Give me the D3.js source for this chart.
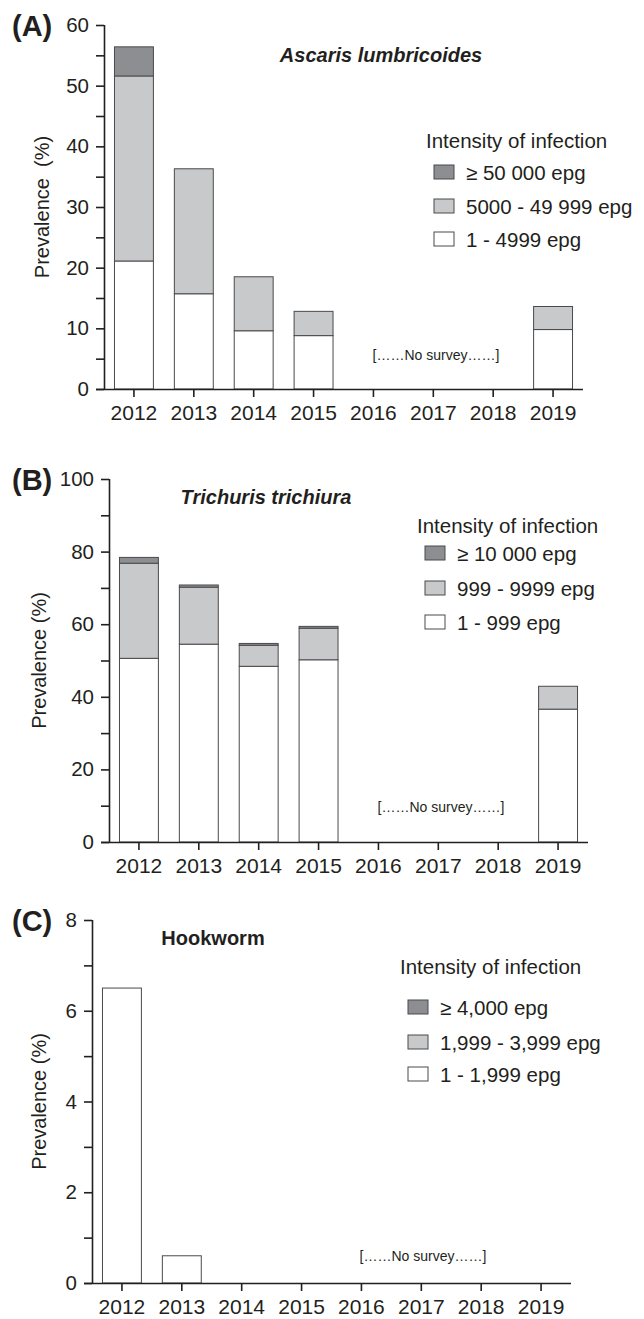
<!DOCTYPE html>
<html>
<head>
<meta charset="utf-8">
<script src="https://cdn.jsdelivr.net/npm/d3@7"></script>
<style>
  html, body { margin: 0; padding: 0; background: #fff; }
  svg text { font-family: "Liberation Sans", Arial, Helvetica, sans-serif; fill: #231f20; }
</style>
</head>
<body>
<svg id="chart" width="644" height="1319"></svg>
<script>
// ---- Data ----
const years = ["2012", "2013", "2014", "2015", "2016", "2017", "2018", "2019"];

// (A) Ascaris lumbricoides, prevalence (%) by intensity class
const ascarisLight    = [21.1, 15.7, 9.6, 8.8, null, null, null, 9.8];
const ascarisModerate = [30.5, 20.6, 8.9, 4.0, null, null, null, 3.8];
const ascarisHeavy    = [4.8, 0, 0, 0, null, null, null, 0];
const ascarisLegend   = ["\u2265 50 000 epg", "5000 - 49 999 epg", "1 - 4999 epg"];
const ascarisTicks    = [0, 10, 20, 30, 40, 50, 60];

// (B) Trichuris trichiura
const trichurisLight    = [50.6, 54.5, 48.4, 50.2, null, null, null, 36.6];
const trichurisModerate = [26.2, 15.7, 5.8, 8.7, null, null, null, 6.3];
const trichurisHeavy    = [1.6, 0.6, 0.5, 0.5, null, null, null, 0];
const trichurisLegend   = ["\u2265 10 000 epg", "999 - 9999 epg", "1 - 999 epg"];
const trichurisTicks    = [0, 20, 40, 60, 80, 100];

// (C) Hookworm
const hookLight    = [6.5, 0.6, 0, 0, null, null, null, null];
const hookModerate = [0, 0, 0, 0, null, null, null, null];
const hookHeavy    = [0, 0, 0, 0, null, null, null, null];
const hookLegend   = ["\u2265 4,000 epg", "1,999 - 3,999 epg", "1 - 1,999 epg"];
const hookTicks    = [0, 2, 4, 6, 8];

const fills = ["#ffffff", "#c8c9cb", "#8d8e92"]; // light, moderate, heavy
const legendFills = ["#8d8e92", "#c8c9cb", "#ffffff"];

const svg = d3.select("#chart");

function drawPanel(p) {
  const y = d3.scaleLinear().domain([0, p.ymax]).range([p.y0, p.y1]);
  const x = d3.scaleBand().domain(years).range([p.x0, p.x0 + 479]).paddingInner(0.35).paddingOuter(0.175);
  const g = svg.append("g");

  // stacked bars
  const series = [p.light, p.moderate, p.heavy];
  years.forEach((yr, i) => {
    if (p.light[i] === null) return;
    let base = 0;
    series.forEach((s, k) => {
      const v = s[i];
      if (v > 0) {
        g.append("rect")
          .attr("x", x(yr))
          .attr("width", x.bandwidth())
          .attr("y", y(base + v))
          .attr("height", y(base) - y(base + v))
          .attr("fill", fills[k])
          .attr("stroke", "#4a4a4c")
          .attr("stroke-width", 1);
      }
      base += v;
    });
  });

  // y axis (major labelled + minor)
  const minor = d3.range(0, p.ymax + 1e-9, p.minorStep).filter(v => !p.ticks.some(t => Math.abs(t - v) < 1e-9));
  const yAxis = d3.axisLeft(y).tickValues(p.ticks).tickSize(8).tickPadding(7).tickFormat(d3.format("d"));
  const ya = g.append("g").attr("transform", `translate(${p.x0},0)`).call(yAxis);
  g.append("g").attr("transform", `translate(${p.x0},0)`)
    .call(d3.axisLeft(y).tickValues(minor).tickSize(8).tickFormat(""))
    .select(".domain").remove();

  // x axis
  const xAxis = d3.axisBottom(x).tickSize(8).tickPadding(8);
  const xa = g.append("g").attr("transform", `translate(0,${p.y0})`).call(xAxis);
  xa.select(".domain").attr("d", `M${p.x0 - 8},0.5H${p.x0 + 479}`);
  ya.select(".domain").attr("d", `M0.5,${p.y1}V${p.y0}`);

  g.selectAll(".domain, .tick line").attr("stroke", "#231f20").attr("stroke-width", 1.6);
  ya.selectAll(".tick text").attr("font-size", 20.5);
  xa.selectAll(".tick text").attr("font-size", 21);
  g.selectAll(".tick text").attr("fill", "#231f20")
    .style("font-family", "'Liberation Sans', Arial, sans-serif");

  // y label
  g.append("text")
    .attr("transform", `translate(${p.ylabX},${(p.y0 + p.y1) / 2}) rotate(-90)`)
    .attr("text-anchor", "middle").attr("dominant-baseline", "central")
    .attr("font-size", 20).style("white-space", "pre")
    .text(p.ylab);

  // panel letter
  g.append("text").attr("x", 12).attr("y", p.y1 + 1).attr("dominant-baseline", "central")
    .attr("font-size", 29).attr("font-weight", "bold").text(p.letter);

  // title
  g.append("text").attr("x", p.titleX).attr("y", p.titleY).attr("text-anchor", "middle")
    .attr("dominant-baseline", "central").attr("font-size", 20).attr("font-weight", "bold")
    .attr("font-style", p.italic ? "italic" : "normal").text(p.title);

  // no survey
  g.append("text").attr("x", p.nsX).attr("y", p.nsY).attr("text-anchor", "middle")
    .attr("dominant-baseline", "central").attr("font-size", 14).text("[\u2026\u2026No survey\u2026\u2026]");

  // legend
  g.append("text").attr("x", p.legX).attr("y", p.legTitleY).attr("dominant-baseline", "central")
    .attr("font-size", 20.5).text("Intensity of infection");
  p.legend.forEach((lab, i) => {
    const cy = p.legRows[i];
    g.append("rect").attr("x", p.legX + 8).attr("y", cy - 7).attr("width", 20).attr("height", 14)
      .attr("fill", legendFills[i]).attr("stroke", "#4a4a4c").attr("stroke-width", 1);
    g.append("text").attr("x", p.legX + 40).attr("y", cy).attr("dominant-baseline", "central")
      .attr("font-size", 20.5).text(lab);
  });
}

drawPanel({
  letter: "(A)", title: "Ascaris lumbricoides", italic: true, titleX: 381, titleY: 55,
  light: ascarisLight, moderate: ascarisModerate, heavy: ascarisHeavy,
  ymax: 60, ticks: ascarisTicks, minorStep: 5,
  y0: 389, y1: 25, x0: 104, ylabX: 42, ylab: "Prevalence  (%)",
  nsX: 436, nsY: 355,
  legend: ascarisLegend, legX: 426, legTitleY: 140, legRows: [172, 206, 239]
});

drawPanel({
  letter: "(B)", title: "Trichuris trichiura", italic: true, titleX: 266, titleY: 497,
  light: trichurisLight, moderate: trichurisModerate, heavy: trichurisHeavy,
  ymax: 100, ticks: trichurisTicks, minorStep: 10,
  y0: 842, y1: 479, x0: 109, ylabX: 39, ylab: "Prevalence (%)",
  nsX: 441, nsY: 807,
  legend: trichurisLegend, legX: 417, legTitleY: 525, legRows: [553, 588, 622]
});

drawPanel({
  letter: "(C)", title: "Hookworm", italic: false, titleX: 213, titleY: 938,
  light: hookLight, moderate: hookModerate, heavy: hookHeavy,
  ymax: 8, ticks: hookTicks, minorStep: 1,
  y0: 1283, y1: 920, x0: 92, ylabX: 39, ylab: "Prevalence (%)",
  nsX: 423, nsY: 1256,
  legend: hookLegend, legX: 400, legTitleY: 966, legRows: [1007, 1042, 1074]
});
</script>
</body>
</html>
